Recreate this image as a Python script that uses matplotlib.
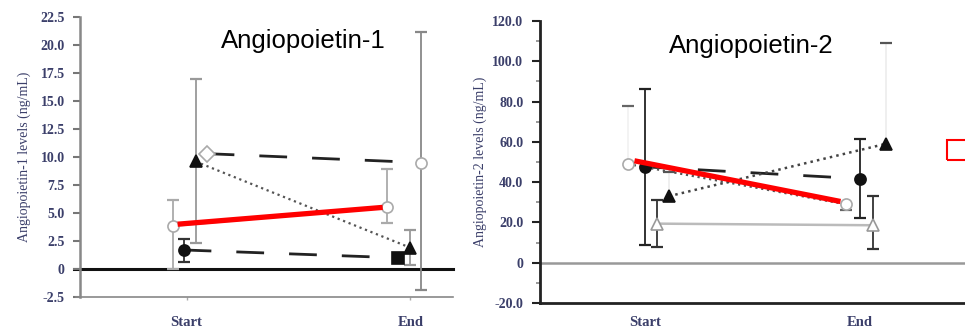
import matplotlib
matplotlib.use("Agg")
import matplotlib.pyplot as plt
from matplotlib.patches import Rectangle

# ---------------- data ----------------
categories = ["Start", "End"]

# Angiopoietin-1 (ng/mL): values [Start, End], error bar lows/highs (None = not shown)
a1_fc = [1.7, 1.0];  a1_fc_lo = [0.6, None];  a1_fc_hi = [2.7, None]
a1_oc = [3.8, 5.5];  a1_oc_lo = [0.0, 4.1];   a1_oc_hi = [6.2, 8.9]
a1_ft = [9.6, 1.9];  a1_ft_lo = [2.3, 0.4];   a1_ft_hi = [17.0, 3.5]
a1_ot = [10.3, 9.5]; a1_ot_lo = [None, -1.9]; a1_ot_hi = [None, 21.2]
a1_red = [4.0, 5.5]

# Angiopoietin-2 (ng/mL)
a2_fc = [47.6, 41.7]; a2_fc_lo = [9.0, 22.0]; a2_fc_hi = [86.0, 61.5]
a2_oc = [49.0, 29.0]; a2_oc_lo = [None, 26.0]; a2_oc_hi = [78.0, None]
a2_ft = [33.0, 59.0]; a2_ft_lo = [None, None]; a2_ft_hi = [45.0, 109.0]
a2_ot = [19.4, 18.6]; a2_ot_lo = [7.8, 7.0];  a2_ot_hi = [31.0, 33.0]
a2_red = [50.6, 30.4]

a1_yticks = [-2.5, 0, 2.5, 5.0, 7.5, 10.0, 12.5, 15.0, 17.5, 20.0, 22.5]
a1_yticklabels = ["-2.5", "0", "2.5", "5.0", "7.5", "10.0", "12.5", "15.0", "17.5", "20.0", "22.5"]
a2_yticks = [-20, 0, 20, 40, 60, 80, 100, 120]
a2_yticklabels = ["-20.0", "0", "20.0", "40.0", "60.0", "80.0", "100.0", "120.0"]

# ---------------- drawing ----------------
SERIF = ["Liberation Serif", "DejaVu Serif"]
TXT = "#3b3f6a"

fig = plt.figure(figsize=(9.65, 3.28), dpi=100)
ax1 = fig.add_axes([80/965, 1-297/328, (453-80)/965, (297-17)/328])
ax2 = fig.add_axes([540/965, 1-303/328, (965-540)/965, (303-21)/328])


def errbar(ax, x, y, lo, hi, color, capcolor, lw=1.3, cap=4):
    if lo is None and hi is None:
        return
    l = y if lo is None else lo
    h = y if hi is None else hi
    ax.plot([x, x], [l, h], color=color, lw=lw, zorder=2)
    for v in (lo, hi):
        if v is not None:
            ax.plot([x], [v], marker="_", ms=cap*2, mew=lw+0.3, color=capcolor, zorder=2)


def series(ax, xs, vals, lo, hi, markers, mfc, mec, ls, lcolor, lw, ecolor, capcolor=None, ms=8, dashes=None):
    kw = dict(color=lcolor, lw=lw, zorder=3)
    if dashes is not None:
        kw["dashes"] = dashes
    else:
        kw["ls"] = ls
    ax.plot(xs, vals, **kw)
    for i in range(2):
        errbar(ax, xs[i], vals[i], lo[i], hi[i], ecolor, capcolor or ecolor)
        ax.plot([xs[i]], [vals[i]], marker=markers[i], ms=ms, mfc=mfc, mec=mec, mew=1.2, ls="none", zorder=4)


# ---- Angiopoietin-1 ----
ax1.set_xlim(-0.50, 1.25)
ax1.set_ylim(-2.5, 22.5)
ax1.axhline(0, color="#111111", lw=2.2, zorder=1, xmin=-0.015, clip_on=False)
series(ax1, [-0.014, 0.99], a1_fc, a1_fc_lo, a1_fc_hi, ["o", "s"], "#111111", "#111111", None, "#222222", 2.0, "#333333", dashes=(10, 9))
series(ax1, [0.094, 1.10], a1_ot, a1_ot_lo, a1_ot_hi, ["D", "o"], "white", "#aaaaaa", None, "#222222", 2.0, "#888888", dashes=(10, 9))
series(ax1, [-0.066, 0.94], a1_oc, a1_oc_lo, a1_oc_hi, ["o", "o"], "white", "#aaaaaa", "-", "#bbbbbb", 1.0, "#aaaaaa")
series(ax1, [0.042, 1.05], a1_ft, a1_ft_lo, a1_ft_hi, ["^", "^"], "#111111", "#111111", ":", "#555555", 1.6, "#999999")
ax1.plot([-0.042, 0.92], a1_red, color="#ff0000", lw=3.8, solid_capstyle="butt", zorder=6)

ax1.set_yticks(a1_yticks)
ax1.set_yticklabels(a1_yticklabels, fontfamily=SERIF, fontsize=10, color=TXT, fontweight="bold")
ax1.set_xticks([0, 1.05])
ax1.set_xticklabels(categories, fontfamily=SERIF, fontsize=10.5, color=TXT, fontweight="bold")
ax1.tick_params(axis="y", length=5, width=1.5, color="#777777", pad=6)
ax1.tick_params(axis="x", length=2, width=1, color="#aaaaaa", pad=12)
for s in ("top", "right"):
    ax1.spines[s].set_visible(False)
ax1.spines["left"].set_color("#888888"); ax1.spines["left"].set_linewidth(1.8)
ax1.spines["bottom"].set_color("#888888"); ax1.spines["bottom"].set_linewidth(1.2)
ax1.spines["bottom"].set_bounds(-0.52, 1.25)
ax1.set_ylabel("Angiopoietin-1 levels (ng/mL)", fontfamily=SERIF, fontsize=10, color=TXT, labelpad=7)
ax1.text(0.60, 0.915, "Angiopoietin-1", transform=ax1.transAxes, ha="center", va="center",
         fontfamily=["Liberation Sans", "DejaVu Sans"], fontsize=18.5, color="black")

# ---- Angiopoietin-2 ----
ax2.set_xlim(-0.49, 1.49)
ax2.set_ylim(-20, 120)
ax2.axhline(0, color="#999999", lw=1.8, zorder=1)
series(ax2, [0.0, 1.0], a2_fc, a2_fc_lo, a2_fc_hi, ["o", "o"], "#111111", "#111111", None, "#222222", 2.0, "#222222", dashes=(10, 9))
series(ax2, [-0.08, 0.935], a2_oc, a2_oc_lo, a2_oc_hi, ["o", "o"], "white", "#aaaaaa", ":", "#555555", 1.6, "#f2f2f2", capcolor="#666666")
series(ax2, [0.11, 1.12], a2_ft, a2_ft_lo, a2_ft_hi, ["^", "^"], "#111111", "#111111", ":", "#444444", 1.8, "#eeeeee", capcolor="#555555")
series(ax2, [0.056, 1.06], a2_ot, a2_ot_lo, a2_ot_hi, ["^", "^"], "white", "#999999", "-", "#bbbbbb", 1.8, "#333333")
ax2.plot([-0.05, 0.91], a2_red, color="#ff0000", lw=3.8, solid_capstyle="butt", zorder=6)

ax2.set_yticks(a2_yticks)
ax2.set_yticks([-10, 10, 30, 50, 70, 90, 110], minor=True)
ax2.set_yticklabels(a2_yticklabels, fontfamily=SERIF, fontsize=10, color=TXT, fontweight="bold")
ax2.set_xticks([0, 1.0])
ax2.set_xticklabels(categories, fontfamily=SERIF, fontsize=10.5, color=TXT, fontweight="bold")
ax2.tick_params(axis="y", which="major", length=6, width=1.5, color="#222222", pad=6)
ax2.tick_params(axis="y", which="minor", length=3, width=1.2, color="#888888")
ax2.tick_params(axis="x", length=0, pad=9)
for s in ("top", "right"):
    ax2.spines[s].set_visible(False)
ax2.spines["left"].set_color("#222222"); ax2.spines["left"].set_linewidth(2.0)
ax2.spines["bottom"].set_color("#222222"); ax2.spines["bottom"].set_linewidth(2.0)
ax2.set_ylabel("Angiopoietin-2 levels (ng/mL)", fontfamily=SERIF, fontsize=10, color=TXT, labelpad=4)
ax2.text(0.497, 0.91, "Angiopoietin-2", transform=ax2.transAxes, ha="center", va="center",
         fontfamily=["Liberation Sans", "DejaVu Sans"], fontsize=18.5, color="black")

# red outlined box at right edge (partially cut off)
fig.patches.append(Rectangle((947/965, 1-160/328), 30/965, 20/328, transform=fig.transFigure,
                             fill=False, edgecolor="#ff0000", lw=1.5, clip_on=False))

fig.savefig("out.png", dpi=100)
